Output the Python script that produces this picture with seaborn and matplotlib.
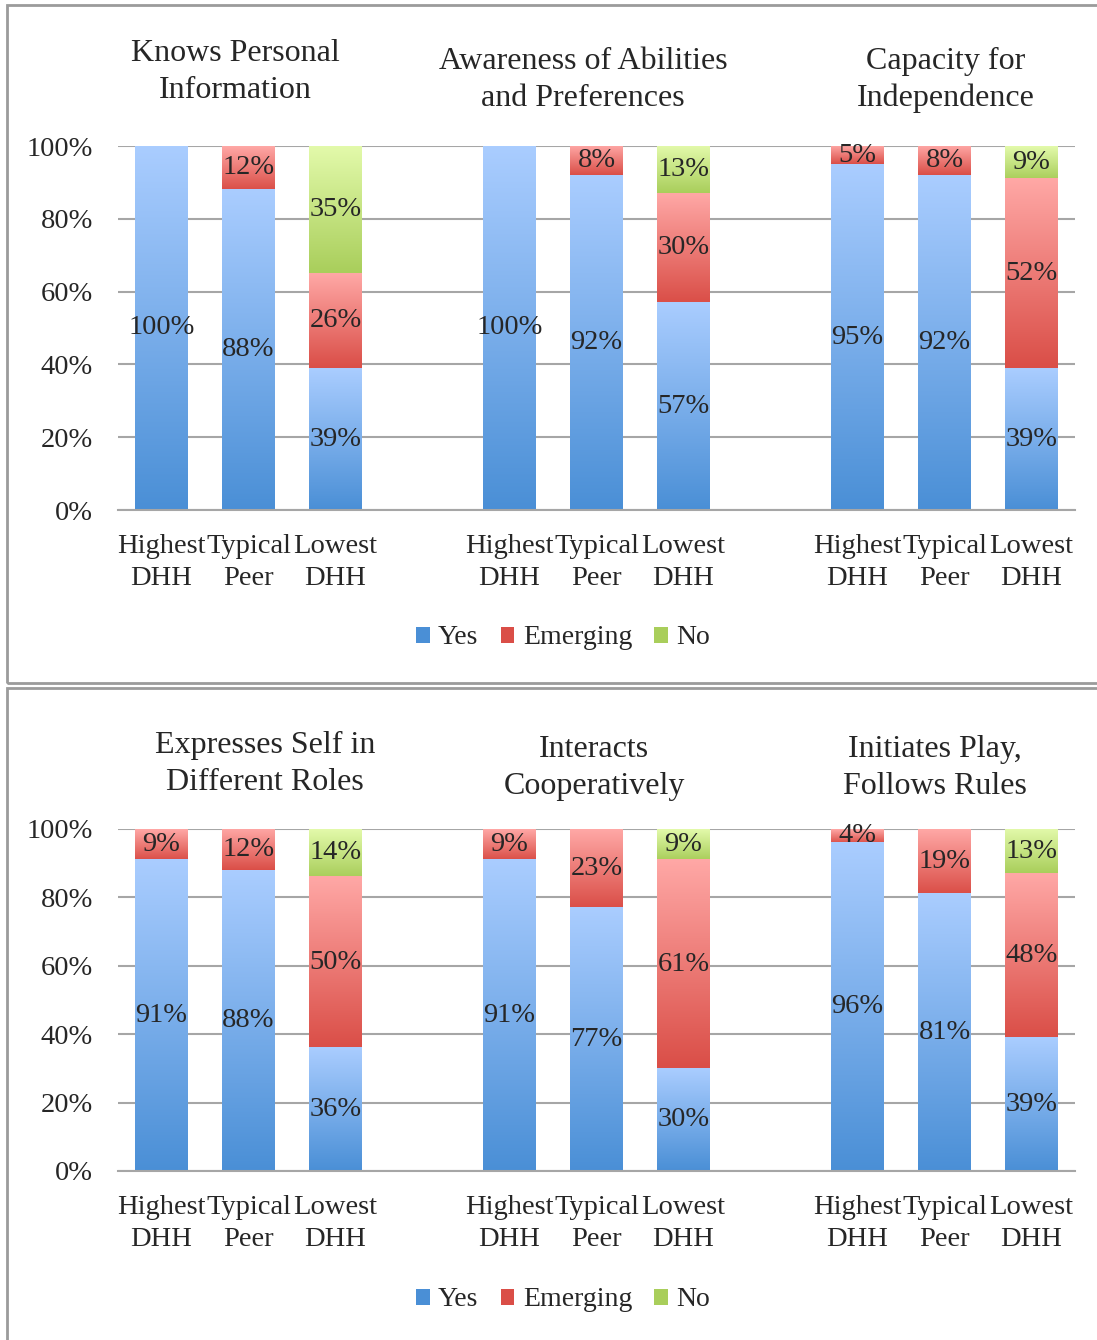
import numpy as np
import pandas as pd
import matplotlib.pyplot as plt
import matplotlib as mpl
from matplotlib.patches import Patch, Rectangle
from matplotlib.colors import LinearSegmentedColormap
import seaborn as sns

sns.set_theme(style="white")
mpl.rcParams['font.family'] = ['Liberation Serif', 'DejaVu Serif']

# 数据
groups = ["Highest\nDHH", "Typical\nPeer", "Lowest\nDHH"]
top_titles = ["Knows Personal\nInformation", "Awareness of Abilities\nand Preferences",
              "Capacity for\nIndependence"]
bottom_titles = ["Expresses Self in\nDifferent Roles", "Interacts\nCooperatively",
                 "Initiates Play,\nFollows Rules"]
top_yes = [100, 88, 39, 100, 92, 57, 95, 92, 39]
top_emerging = [0, 12, 26, 0, 8, 30, 5, 8, 52]
top_no = [0, 0, 35, 0, 0, 13, 0, 0, 9]
bottom_yes = [91, 88, 36, 91, 77, 30, 96, 81, 39]
bottom_emerging = [9, 12, 50, 9, 23, 61, 4, 19, 48]
bottom_no = [0, 0, 14, 0, 0, 9, 0, 0, 13]
series = ["Yes", "Emerging", "No"]

# 渐变颜色 (底部, 顶部)
grad = {
    "Yes": ("#4A8FD6", "#AACDFF"),
    "Emerging": ("#DA4E47", "#FFA8A6"),
    "No": ("#A9CE5B", "#E3FAAB"),
}
W, H = 1097, 1340
grid_col = "#A6A6A6"
fs = 20.5


def px(x, y):
    return x / W, 1 - y / H


def draw_panel(ax, yes, emerging, no, titles, title_y):
    slots = [g * 4 + m for g in range(3) for m in range(3)]
    df = pd.DataFrame({
        "slot": slots,
        "Yes": yes,
        "Emerging": emerging,
        "No": no,
    })
    df["c_yes"] = df["Yes"]
    df["c_em"] = df["Yes"] + df["Emerging"]
    df["c_no"] = df["c_em"] + df["No"]

    layers = [("No", "c_no", "c_em"), ("Emerging", "c_em", "c_yes"), ("Yes", "c_yes", None)]
    for name, top_col, low_col in layers:
        n0 = len(ax.patches)
        sns.barplot(data=df, x="slot", y=top_col, native_scale=True, width=0.6,
                    color=grad[name][0], ax=ax, zorder=2)
        new = ax.patches[n0:]
        cmap = LinearSegmentedColormap.from_list(name, list(grad[name]))
        for i, p in enumerate(new):
            lo = 0 if low_col is None else df[low_col].iloc[i]
            hi = p.get_height()
            val = df[name].iloc[i]
            p.set_facecolor("none")
            p.set_edgecolor("none")
            if val <= 0:
                continue
            x0, x1 = p.get_x(), p.get_x() + p.get_width()
            ax.imshow(np.linspace(0, 1, 256).reshape(-1, 1), cmap=cmap, origin="lower",
                      extent=[x0, x1, lo, hi], aspect="auto", zorder=2)
            ax.text((x0 + x1) / 2, (lo + hi) / 2, f"{val}%", ha="center", va="center",
                    fontsize=fs, zorder=4)

    ax.set_xlim(-0.5, 10.5)
    ax.set_ylim(0, 100)
    ax.set_yticks(np.arange(0, 101, 20))
    ax.set_yticklabels([f"{v}%" for v in range(0, 101, 20)])
    ax.set_xticks(slots)
    ax.set_xticklabels(groups * 3, linespacing=1.4)
    ax.tick_params(axis="both", length=0, labelsize=fs)
    ax.tick_params(axis="y", pad=18)
    ax.tick_params(axis="x", pad=17)
    ax.set_xlabel("")
    ax.set_ylabel("")
    ax.grid(axis="y", color=grid_col, lw=1.5, zorder=0)
    ax.set_axisbelow(True)
    for s in ["left", "right", "top"]:
        ax.spines[s].set_visible(False)
    ax.spines["bottom"].set_color(grid_col)
    ax.spines["bottom"].set_linewidth(1.5)

    for t, (cx, cy) in zip(titles, title_y):
        fx, fy = px(cx, cy)
        fig.text(fx, fy, t, ha="center", va="center", fontsize=23, linespacing=1.35)


fig = plt.figure(figsize=(W / 100, H / 100), dpi=100)
fig.patch.set_facecolor("white")

ax1 = fig.add_axes([118 / W, 1 - 510 / H, 957 / W, 364 / H])
ax2 = fig.add_axes([118 / W, 1 - 1171 / H, 957 / W, 342 / H])

draw_panel(ax1, top_yes, top_emerging, top_no, top_titles,
           [(235, 72), (583, 80), (946, 80)])
draw_panel(ax2, bottom_yes, bottom_emerging, bottom_no, bottom_titles,
           [(265, 764), (594, 768), (935, 768)])

# 图例
handles = [Patch(facecolor=grad[s][0], edgecolor="none") for s in series]
for ly in [638, 1300]:
    fig.legend(handles, series, loc="center", bbox_to_anchor=px(563, ly), ncol=3,
               frameon=False, fontsize=20, handlelength=0.5, handleheight=0.5,
               handletextpad=0.3, columnspacing=0.8)

# 面板边框
for y0, y1 in [(5, 683), (688, 1350)]:
    fx, fy = px(7, y1)
    fig.add_artist(Rectangle((fx, fy), (1110 - 7) / W, (y1 - y0) / H,
                             transform=fig.transFigure, fill=False,
                             edgecolor="#9B9B9B", lw=2))

fig.savefig("out.png", dpi=100)
